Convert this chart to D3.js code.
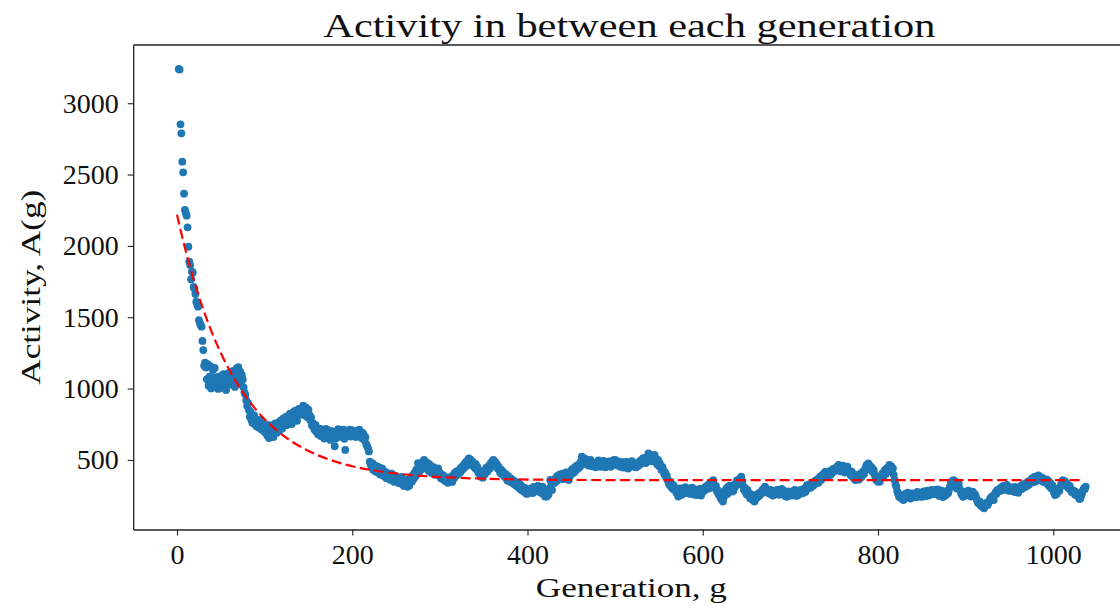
<!DOCTYPE html>
<html>
<head>
<meta charset="utf-8">
<script src="https://cdn.jsdelivr.net/npm/d3@7"></script>
<style>
body { margin: 0; background: #fff; }
svg text { font-family: "Liberation Serif", "Times New Roman", serif; fill: #111; }
</style>
</head>
<body>
<script>
// activity per generation (first value is generation 2)
var firstGen = 2;
var activity = [
	3240, 3236, 2852, 2789, 2590, 2516, 2366, 2252, 2231, 2212, 2130, 1994, 1890, 1866, 1766, 1819, 1812, 1712, 1700, 1663,
	1609, 1590, 1574, 1480, 1462, 1445, 1434, 1334, 1270, 1160, 1182, 1148, 1065, 1172, 1020, 1084, 1158, 1001, 1062, 1130,
	1012, 1145, 1078, 1026, 1060, 998, 1085, 1032, 1004, 1068, 1040, 1102, 1018, 1056, 990, 1074, 1046, 1110, 1028, 1062,
	1090, 1036, 1124, 1070, 1012, 1098, 1142, 1080, 1150, 1056, 1118, 1030, 1096, 1064, 1008, 972, 958, 918, 880, 900,
	850, 802, 836, 780, 760, 792, 812, 748, 770, 735, 762, 728, 780, 745, 716, 758, 740, 702, 726, 690,
	716, 672, 745, 654, 730, 702, 688, 742, 660, 712, 756, 724, 690, 738, 762, 708, 776, 742, 720, 790,
	756, 772, 802, 744, 788, 810, 770, 824, 796, 752, 808, 836, 790, 846, 812, 774, 828, 858, 816, 840,
	862, 826, 880, 848, 812, 868, 838, 800, 852, 815, 780, 798, 742, 760, 730, 712, 745, 698, 722, 680,
	698, 720, 668, 690, 712, 676, 650, 700, 718, 688, 710, 664, 692, 640, 676, 702, 662, 688, 596, 650,
	674, 702, 716, 686, 662, 708, 690, 670, 712, 648, 570, 684, 702, 676, 690, 712, 664, 694, 708, 672,
	698, 680, 660, 702, 690, 676, 712, 688, 666, 652, 690, 676, 640, 660, 610, 596, 582, 560, 488, 470,
	452, 478, 430, 462, 444, 418, 456, 432, 410, 446, 398, 424, 440, 406, 388, 420, 398, 372, 410, 384,
	396, 362, 380, 404, 356, 374, 346, 390, 368, 350, 372, 338, 360, 344, 382, 330, 352, 318, 340, 362,
	326, 312, 344, 320, 352, 378, 348, 392, 366, 410, 384, 432, 400, 478, 446, 420, 462, 436, 470, 492,
	500, 468, 444, 482, 456, 424, 470, 438, 410, 430, 452, 418, 396, 441, 420, 406, 440, 392, 410, 372,
	398, 366, 390, 383, 352, 378, 360, 340, 372, 354, 380, 360, 346, 392, 370, 410, 388, 420, 396, 406,
	430, 412, 446, 428, 456, 440, 472, 453, 488, 462, 498, 511, 480, 502, 466, 490, 458, 476, 444, 470,
	432, 450, 410, 424, 396, 383, 402, 376, 412, 398, 430, 446, 418, 430, 460, 440, 478, 462, 490, 500,
	472, 488, 456, 470, 440, 453, 426, 408, 432, 400, 418, 390, 383, 402, 372, 356, 386, 364, 348, 370,
	360, 338, 356, 330, 348, 320, 342, 312, 336, 300, 326, 290, 313, 296, 278, 304, 284, 262, 290, 266,
	290, 276, 300, 289, 268, 312, 294, 280, 310, 290, 318, 313, 292, 270, 296, 313, 262, 280, 243, 270,
	243, 286, 258, 300, 360, 318, 289, 336, 352, 340, 371, 350, 388, 362, 376, 398, 370, 383, 404, 366,
	390, 378, 412, 372, 396, 359, 384, 420, 400, 436, 430, 412, 448, 426, 460, 438, 441, 470, 452, 490,
	523, 496, 480, 510, 488, 470, 502, 476, 460, 492, 500, 482, 456, 478, 470, 465, 448, 480, 462, 496,
	470, 486, 452, 476, 460, 494, 472, 448, 480, 462, 465, 490, 470, 452, 482, 468, 498, 478, 500, 486,
	462, 490, 476, 488, 452, 472, 460, 484, 446, 453, 470, 486, 462, 440, 476, 458, 476, 492, 464, 480,
	452, 470, 448, 476, 458, 465, 490, 472, 500, 484, 512, 496, 511, 478, 520, 500, 546, 518, 492, 526,
	504, 534, 490, 535, 512, 486, 470, 500, 458, 476, 448, 430, 452, 430, 400, 412, 380, 390, 359, 340,
	326, 348, 310, 330, 296, 318, 289, 300, 270, 286, 243, 268, 300, 280, 256, 292, 276, 289, 310, 268,
	294, 272, 300, 284, 262, 289, 306, 276, 258, 290, 270, 254, 282, 266, 298, 272, 250, 289, 276, 300,
	286, 312, 298, 320, 324, 300, 338, 312, 346, 330, 359, 326, 304, 318, 282, 289, 260, 276, 240, 226,
	250, 208, 236, 270, 288, 300, 262, 313, 290, 320, 298, 278, 306, 284, 326, 313, 340, 356, 330, 362,
	348, 372, 383, 350, 318, 289, 304, 276, 260, 290, 250, 268, 232, 243, 256, 220, 240, 208, 226, 250,
	236, 262, 248, 270, 258, 266, 290, 276, 300, 313, 288, 296, 270, 278, 292, 262, 289, 276, 250, 266,
	266, 284, 262, 290, 272, 256, 280, 289, 298, 274, 286, 260, 248, 272, 242, 264, 280, 256, 274, 250,
	266, 282, 258, 290, 270, 248, 262, 254, 286, 270, 278, 292, 266, 284, 300, 276, 310, 324, 298, 314,
	330, 306, 313, 338, 320, 348, 332, 356, 348, 364, 340, 372, 383, 360, 392, 376, 404, 388, 418, 396,
	410, 388, 420, 406, 396, 426, 412, 438, 420, 441, 428, 452, 436, 465, 442, 420, 448, 426, 460, 430,
	412, 440, 422, 453, 430, 410, 406, 392, 418, 380, 400, 372, 359, 388, 370, 396, 362, 383, 404, 378,
	396, 420, 402, 430, 448, 466, 452, 476, 440, 458, 430, 446, 418, 430, 400, 380, 359, 372, 348, 362,
	348, 372, 390, 406, 380, 418, 430, 404, 441, 420, 452, 465, 440, 456, 430, 441, 396, 359, 330, 313,
	280, 262, 242, 256, 234, 248, 226, 219, 240, 262, 236, 252, 270, 242, 258, 230, 248, 266, 240, 254,
	254, 238, 262, 276, 250, 244, 268, 256, 242, 264, 280, 258, 246, 270, 284, 266, 250, 278, 262, 290,
	272, 260, 284, 289, 268, 276, 294, 260, 248, 270, 286, 254, 240, 262, 276, 250, 266, 284, 266, 290,
	312, 336, 348, 330, 359, 344, 352, 320, 300, 326, 336, 300, 286, 262, 272, 242, 258, 276, 250, 268,
	266, 284, 256, 270, 244, 262, 278, 250, 264, 254, 236, 218, 200, 196, 210, 182, 176, 190, 168, 161,
	174, 186, 200, 185, 196, 212, 230, 219, 244, 236, 219, 256, 270, 262, 289, 278, 289, 300, 284, 310,
	296, 318, 304, 313, 290, 326, 300, 284, 310, 296, 289, 306, 280, 292, 312, 274, 298, 289, 270, 289,
	302, 318, 296, 313, 330, 308, 313, 336, 320, 348, 326, 352, 338, 359, 372, 344, 362, 383, 350, 383,
	366, 392, 370, 359, 380, 354, 372, 346, 366, 359, 340, 362, 328, 350, 313, 336, 300, 322, 290, 270,
	254, 272, 262, 290, 301, 284, 312, 330, 346, 359, 338, 352, 326, 340, 312, 324, 300, 316, 290, 276,
	289, 270, 282, 256, 274, 266, 248, 240, 226, 231, 252, 270, 289, 300, 296, 313
];

// fitted decay curve, sampled
var fitGen = [0, 3, 6, 10, 15, 20, 25, 30, 40, 50, 60, 70, 80, 90, 100, 115, 130, 145, 160, 180, 200, 225, 250, 280, 320, 370, 430, 500, 600, 700, 800, 900, 1035];
var fitVal = [2218, 2138, 2061, 1964, 1850, 1744, 1646, 1555, 1391, 1250, 1128, 1022, 932, 853, 785, 701, 633, 579, 535, 490, 456, 426, 405, 388, 375, 366, 361, 359, 358, 358, 358, 358, 358];

var xTicks = [0, 200, 400, 600, 800, 1000];
var yTicks = [500, 1000, 1500, 2000, 2500, 3000];

var width = 1120,
    height = 609;

var svg = d3.select("body").append("svg")
    .attr("width", width)
    .attr("height", height);

var plotLeft = 133.2, plotRight = 1129.5, plotTop = 45, plotBottom = 529.5;

var x = d3.scaleLinear()
    .domain([-50, 1087])
    .range([plotLeft, plotRight]);

var y = d3.scaleLinear()
    .domain([12.6, 3408])
    .range([plotBottom, plotTop]);

svg.append("clipPath")
    .attr("id", "plot")
  .append("rect")
    .attr("x", plotLeft)
    .attr("y", plotTop)
    .attr("width", plotRight - plotLeft)
    .attr("height", plotBottom - plotTop);

var plot = svg.append("g").attr("clip-path", "url(#plot)");

plot.selectAll("circle")
    .data(activity).enter()
    .append("circle")
    .attr("cx", function(d, i){ return x(firstGen + i); })
    .attr("cy", function(d){ return y(d); })
    .attr("r", 3.9)
    .attr("fill", "#1f77b4");

var line = d3.line()
    .x(function(d, i){ return x(fitGen[i]); })
    .y(function(d){ return y(d); })
    .curve(d3.curveMonotoneX);

plot.append("path")
    .datum(fitVal)
    .attr("fill", "none")
    .attr("stroke", "#ff0000")
    .attr("stroke-width", 2.2)
    .attr("stroke-dasharray", "10,4.5")
    .attr("d", line);

// axes
var xAxis = svg.append("g")
    .attr("transform", "translate(0," + plotBottom + ")")
    .call(d3.axisBottom(x).tickValues(xTicks).tickFormat(d3.format("d")).tickSize(6).tickSizeOuter(0).tickPadding(9));

var yAxis = svg.append("g")
    .attr("transform", "translate(" + plotLeft + ",0)")
    .call(d3.axisLeft(y).tickValues(yTicks).tickFormat(d3.format("d")).tickSize(5.5).tickSizeOuter(0).tickPadding(9));

[xAxis, yAxis].forEach(function(g){
    g.attr("font-size", 28).attr("font-family", null);
    g.select(".domain").attr("stroke", "#222").attr("stroke-width", 1.3);
    g.selectAll(".tick line").attr("stroke", "#222").attr("stroke-width", 1.1);
    g.selectAll(".tick text").attr("fill", "#111");
});

// top spine
svg.append("line")
    .attr("x1", plotLeft).attr("x2", plotRight)
    .attr("y1", plotTop).attr("y2", plotTop)
    .attr("stroke", "#222")
    .attr("stroke-width", 1.3);

var mid = (plotLeft + plotRight) / 2;

svg.append("text")
    .attr("x", mid - 2)
    .attr("y", 37)
    .attr("text-anchor", "middle")
    .attr("font-size", 34)
    .attr("textLength", 612)
    .attr("lengthAdjust", "spacingAndGlyphs")
    .text("Activity in between each generation");

svg.append("text")
    .attr("x", mid)
    .attr("y", 597)
    .attr("text-anchor", "middle")
    .attr("font-size", 28)
    .attr("textLength", 191)
    .attr("lengthAdjust", "spacingAndGlyphs")
    .text("Generation, g");

svg.append("text")
    .attr("transform", "translate(40," + ((plotTop + plotBottom) / 2) + ") rotate(-90)")
    .attr("text-anchor", "middle")
    .attr("font-size", 28)
    .attr("textLength", 195)
    .attr("lengthAdjust", "spacingAndGlyphs")
    .text("Activity, A(g)");
</script>
</body>
</html>
